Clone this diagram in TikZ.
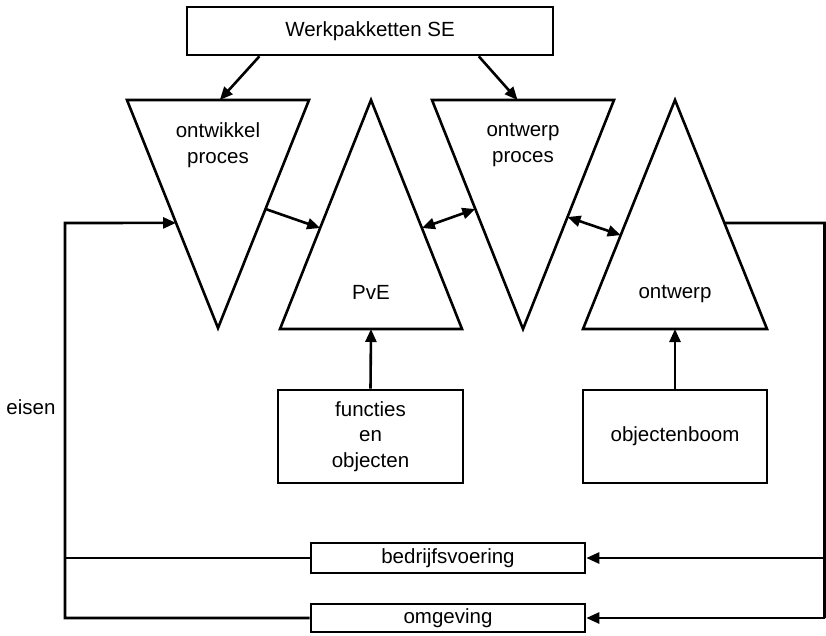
\documentclass[tikz,border=0pt]{standalone}
\usepackage{fontspec}
\setmainfont{Liberation Sans}
\usetikzlibrary{arrows.meta,calc}
\begin{document}
\begin{tikzpicture}[x=1pt,y=-1pt,
  line width=2.6pt,
  every node/.style={font=\fontsize{20.5}{25.5}\selectfont, align=center, inner sep=0pt},
  box/.style={draw, line width=2.6pt},
  tip/.style={-{Triangle[length=13pt,width=11pt]}},
  dtip/.style={{Triangle[length=13pt,width=11pt]}-{Triangle[length=13pt,width=11pt]}},
  wedge/.style={draw, line join=miter, line width=2.6pt}
]
\useasboundingbox (0,0) rectangle (826,635);

% corner points of the four triangles
\coordinate (t1a) at (127,100); \coordinate (t1b) at (309,100); \coordinate (t1c) at (218,328);
\coordinate (t2a) at (280,329); \coordinate (t2b) at (462,329); \coordinate (t2c) at (371,100);
\coordinate (t3a) at (432,100); \coordinate (t3b) at (614,100); \coordinate (t3c) at (523,329);
\coordinate (t4a) at (583,329); \coordinate (t4b) at (767,329); \coordinate (t4c) at (675,100);

\path[wedge] (t1a) -- (t1b) -- (t1c) -- cycle;
\path[wedge] (t2a) -- (t2b) -- (t2c) -- cycle;
\path[wedge] (t3a) -- (t3b) -- (t3c) -- cycle;
\path[wedge] (t4a) -- (t4b) -- (t4c) -- cycle;

% labels
\node (ontw) at (218,145) {ontwikkel\\proces};
\node (pve) at (371,292) {PvE};
\node (ontp) at (523,145) {ontwerp\\proces};
\node (ontwerp) at (675,294) {ontwerp};
\node (eisen) at (31,407) {eisen};

% boxes
\node[box, minimum width=366pt, minimum height=48pt] (wp) at (370,31) {Werkpakketten SE};
\node[box, minimum width=185pt, minimum height=93pt] (fo) at (370.5,436.5) {functies\\en\\objecten};
\node[box, minimum width=184pt, minimum height=93pt] (ob) at (675,436.5) {objectenboom};
\node[box, minimum width=274pt, minimum height=30pt] (bedr) at (448,558) {bedrijfsvoering};
\node[box, minimum width=274pt, minimum height=28pt] (omg) at (448,618) {omgeving};

% frame of the feedback loop
\coordinate (lctop) at (65,223);
\coordinate (lcmid) at (65,558);
\coordinate (lcbot) at (65,618);
\coordinate (rctop) at (824.5,223);
\coordinate (rcmid) at (824.5,558);
\coordinate (rcbot) at (824.5,618);

% connectors
\draw[tip] ($(wp.south west)!0.2!(wp.south east)$) -- ($(t1a)!0.51!(t1b)$);
\draw[tip] ($(wp.south west)!0.795!(wp.south east)$) -- ($(t3a)!0.47!(t3b)$);

\draw[tip] ($(t1b)!0.478!(t1c)$) -- ($(t2c)!0.559!(t2a)$);
\draw[dtip] ($(t2c)!0.559!(t2b)$) -- ($(t3a)!0.476!(t3c)$);
\draw[dtip] ($(t3b)!0.511!(t3c)$) -- ($(t4c)!0.59!(t4a)$);

\draw[tip] (fo.north) -- ($(t2a)!0.5!(t2b)$);
\draw[tip] (ob.north) -- ($(t4a)!0.5!(t4b)$);

\draw[line join=miter] ($(t4c)!0.537!(t4b)$) -- (rctop) -- (rcbot);
\draw[tip] (rcmid) -- (bedr.east);
\draw[tip] (rcbot) -- (omg.east);

\draw[tip, line join=miter] (omg.west) -- (lcbot) -- (lctop) -- ($(t1a)!0.539!(t1c)$);
\draw (bedr.west) -- (lcmid);
\end{tikzpicture}
\end{document}
